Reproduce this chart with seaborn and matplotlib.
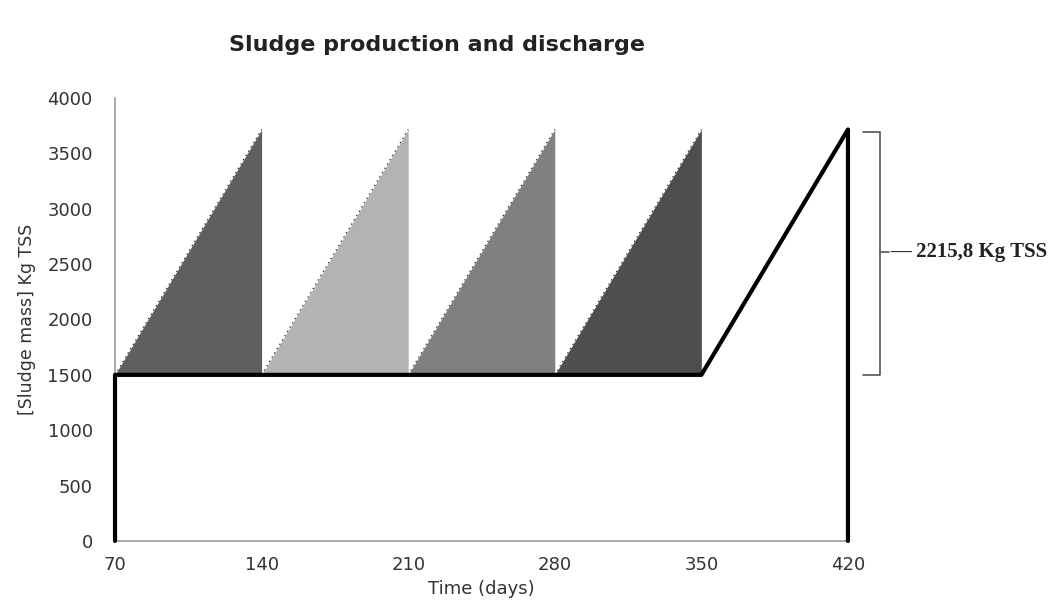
import numpy as np
import matplotlib
matplotlib.use("Agg")
import matplotlib.pyplot as plt
import seaborn as sns

# cycle boundaries (days) and sludge mass (kg TSS)
cycle_start = [70, 140, 210, 280]
cycle_end = [140, 210, 280, 350]
cycle_colors = ["#5f5f5f", "#b3b3b3", "#808080", "#4e4e4e"]
base_mass = 1500
peak_mass = 3715.8
produced = 2215.8

# black line: start-up, discharge level, last production ramp, final discharge
line_days = [70, 70, 350, 420, 420]
line_mass = [0, 1500, 1500, 3715.8, 0]

x_ticks = [70, 140, 210, 280, 350, 420]
y_ticks = [0, 500, 1000, 1500, 2000, 2500, 3000, 3500, 4000]

sns.set_style("white")
plt.rcParams['font.family'] = ['DejaVu Sans']

fig = plt.figure(figsize=(10.63, 6.06), dpi=100)
ax = fig.add_axes([0.1082, 0.1073, 0.6895, 0.731])

for s, e, c in zip(cycle_start, cycle_end, cycle_colors):
    ax.fill_between([s, e], [base_mass, peak_mass], base_mass,
                    color=c, linewidth=0)
    # dotted dark edge along the rising side
    ax.plot([s, e], [base_mass, peak_mass], color="#222222",
            linewidth=0.9, linestyle=(0, (1, 3)))

sns.lineplot(x=line_days, y=line_mass, sort=False, estimator=None,
             color="black", linewidth=3, ax=ax)
ax.lines[-1].set_clip_on(False)
ax.lines[-1].set_zorder(3)

ax.set_xlim(70, 420)
ax.set_ylim(0, 4000)
ax.set_xticks(x_ticks)
ax.set_yticks(y_ticks)
ax.tick_params(axis="y", labelsize=13, pad=16, length=0, colors="#333333")
ax.tick_params(axis="x", labelsize=13, pad=11, length=0, colors="#333333")
ax.set_xlabel("Time (days)", fontsize=13, color="#333333")
ax.set_ylabel("[Sludge mass] Kg TSS", fontsize=12.5, color="#333333", labelpad=8)

for sp in ["top", "right"]:
    ax.spines[sp].set_visible(False)
for sp in ["left", "bottom"]:
    ax.spines[sp].set_color("#9a9a9a")
    ax.spines[sp].set_linewidth(1.2)

# bracket showing produced sludge between discharges
bx = 435.5
ax.plot([427, bx, bx, 427], [peak_mass - 20, peak_mass - 20, base_mass, base_mass],
        color="#555555", linewidth=1.2, clip_on=False)
mid = (base_mass + peak_mass) / 2
ax.plot([bx, bx + 4], [mid, mid], color="#555555", linewidth=1.2, clip_on=False)
ax.text(bx + 4.5, mid, "\u2014 " + f"{produced:.1f}".replace(".", ",") + " Kg TSS",
        fontsize=15, family="Liberation Serif", fontweight="bold",
        va="center", ha="left", color="#222222", clip_on=False)

fig.text(0.411, 0.925, "Sludge production and discharge", fontsize=16,
         fontweight="semibold", ha="center", va="center", color="#222222")

fig.savefig("out.png", dpi=100)
